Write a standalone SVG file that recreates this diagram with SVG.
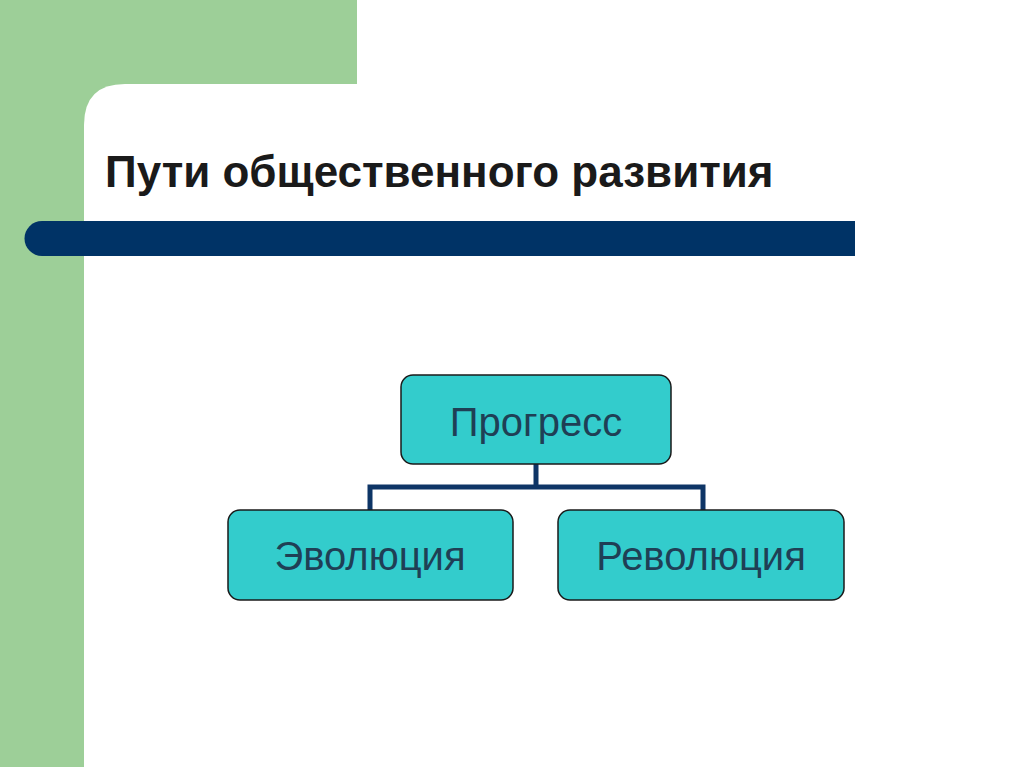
<svg xmlns="http://www.w3.org/2000/svg" width="1024" height="767" viewBox="0 0 1024 767">
<style>
.box{fill:#33cccc;stroke:#1a1a1a;stroke-width:1.5}
.lbl{font-family:"Liberation Sans",Arial,sans-serif;font-size:40px;fill:#1f3f55;text-anchor:middle}
.conn{fill:none;stroke:#0e3566;stroke-width:5}
</style>
<rect width="1024" height="767" fill="#ffffff"/>
<rect x="0" y="0" width="357" height="767" fill="#9dcf98"/>
<path d="M84 767 V125 Q84 84 125 84 H357 V767 Z" fill="#ffffff"/>
<rect x="84" y="300" width="940" height="467" fill="#ffffff"/>
<rect x="0" y="0" width="84" height="767" fill="#9dcf98"/>
<path d="M42 221 H855 V256 H42 A17.5 17.5 0 0 1 42 221 Z" fill="#003366"/>
<text x="105" y="187" font-family="'Liberation Sans',Arial,sans-serif" font-size="44" font-weight="bold" fill="#1a1a1a">Пути общественного развития</text>
<g id="connectors">
<path class="conn" d="M536 464 V487 M370 510 V487 H703 V510"/>
</g>
<g id="progress"><rect class="box" x="401" y="375" width="270" height="89" rx="12"/><text class="lbl" x="536" y="436">Прогресс</text></g>
<g id="evolution"><rect class="box" x="228" y="510" width="285" height="90" rx="12"/><text class="lbl" x="370" y="570">Эволюция</text></g>
<g id="revolution"><rect class="box" x="558" y="510" width="286" height="90" rx="12"/><text class="lbl" x="701" y="570">Революция</text></g>
</svg>
